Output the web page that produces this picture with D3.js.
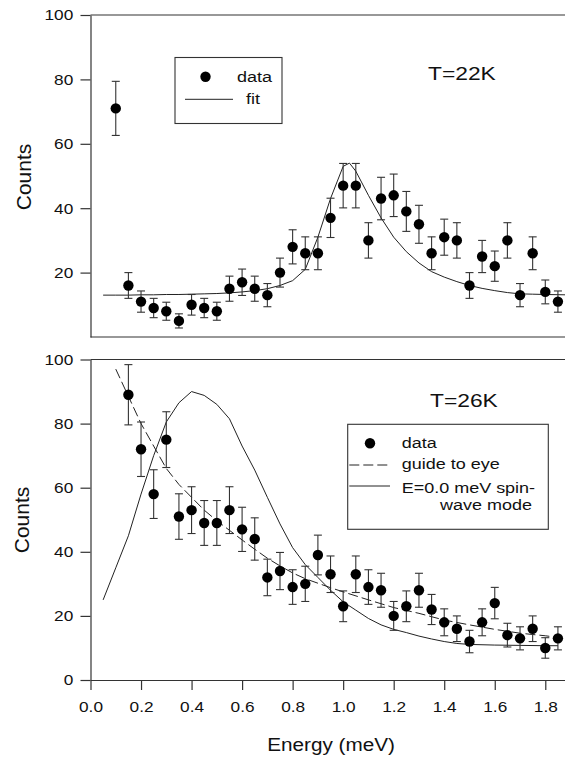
<!DOCTYPE html>
<html>
<head>
<meta charset="utf-8">
<script src="https://cdn.jsdelivr.net/npm/d3@7"></script>
<style>
body { margin: 0; background: #fff; }
text { font-family: "Liberation Sans", Arial, sans-serif; fill: #111; }
</style>
</head>
<body>
<svg id="chart" width="565" height="759"></svg>
<script>
// T=22K panel
var energyTop = [0.1,0.15,0.2,0.25,0.3,0.35,0.4,0.45,0.5,0.55,0.6,0.65,0.7,0.75,0.8,0.85,0.9,0.95,1.0,1.05,1.1,1.15,1.2,1.25,1.3,1.35,1.4,1.45,1.5,1.55,1.6,1.65,1.7,1.75,1.8,1.85];
var countsTop = [71,16,11,9,8,5,10,9,8,15,17,15,13,20,28,26,26,37,47,47,30,43,44,39,35,26,31,30,16,25,22,30,13,26,14,11];
var errTop = [8.4,4,3.3,3,2.8,2.2,3.2,3,2.8,3.9,4.1,3.9,3.6,4.5,5.3,5.1,5.1,6.1,6.9,6.9,5.5,6.6,6.6,6.2,5.9,5.1,5.6,5.5,4,5,4.7,5.5,3.6,5.1,3.7,3.3];
var fitE = [0.05,0.1,0.15,0.2,0.25,0.3,0.35,0.4,0.45,0.5,0.55,0.6,0.65,0.7,0.75,0.8,0.85,0.9,0.95,1.0,1.025,1.05,1.1,1.15,1.2,1.25,1.3,1.35,1.4,1.45,1.5,1.55,1.6,1.65,1.7,1.75,1.8,1.88];
var fitY = [13.0,13.0,13.0,13.1,13.1,13.2,13.2,13.3,13.4,13.5,13.7,14.0,14.4,15.0,16.0,17.5,21,31,43,53,54,51.5,44,37,31,26.5,23,20.3,18.6,17.2,16,15.1,14.4,13.8,13.4,13.3,13.2,13.1];

// T=26K panel
var energyBot = [0.15,0.2,0.25,0.3,0.35,0.4,0.45,0.5,0.55,0.6,0.65,0.7,0.75,0.8,0.85,0.9,0.95,1.0,1.05,1.1,1.15,1.2,1.25,1.3,1.35,1.4,1.45,1.5,1.55,1.6,1.65,1.7,1.75,1.8,1.85];
var countsBot = [89,72,58,75,51,53,49,49,53,47,44,32,34,29,30,39,33,23,33,29,28,20,23,28,22,18,16,12,18,24,14,13,16,10,13];
var errBot = [9.4,8.5,7.6,8.7,7.1,7.3,7,7,7.3,6.9,6.6,5.7,5.8,5.4,5.5,6.2,5.7,4.8,5.7,5.4,5.3,4.5,4.8,5.3,4.7,4.2,4,3.5,4.2,4.9,3.7,3.6,4,3.2,3.6];
var guideE = [0.1,0.15,0.2,0.25,0.3,0.35,0.4,0.45,0.5,0.55,0.6,0.65,0.7,0.75,0.8,0.85,0.9,0.95,1.0,1.1,1.2,1.3,1.4,1.5,1.6,1.7,1.8,1.83];
var guideY = [97,88.5,80,73,66,61,57,53,49.7,46.7,43.7,40.8,38,35.6,33.4,31.6,30.2,28.8,27.5,25,22.6,20.8,18.7,17.2,15.8,14.6,13.8,13.5];
var spinE = [0.05,0.1,0.15,0.2,0.25,0.3,0.35,0.4,0.45,0.5,0.55,0.6,0.65,0.7,0.75,0.8,0.85,0.9,0.95,1.0,1.05,1.1,1.15,1.2,1.25,1.3,1.35,1.4,1.45,1.5,1.6,1.7,1.8,1.85];
var spinY = [25,35,45,58,70,80.5,86.5,90,88.8,86,81.5,73,65.5,57,48.7,41.3,36,32,28,24.4,21.8,19.2,17.2,15.8,14.8,13.7,12.8,12,11.4,11.1,10.9,10.8,10.7,10.7];

var xTicks = [0,0.2,0.4,0.6,0.8,1.0,1.2,1.4,1.6,1.8];
var yTicksTop = [20,40,60,80,100];
var yTicksBot = [0,20,40,60,80,100];

var svg = d3.select("#chart");
var ink = "#1a1a1a";

var x = d3.scaleLinear().domain([0, 1.88]).range([90.5, 565.5]);
var yTop = d3.scaleLinear().domain([0, 100]).range([337, 15]);
var yBot = d3.scaleLinear().domain([0, 100]).range([680, 359.5]);

function zip(a, b) { return a.map(function(v, i) { return [v, b[i]]; }); }

function stretchText(sel, k) { sel.attr("transform", "scale(" + k + ",1)"); }

function label(x0, y0, str, size, k, anchor) {
  return svg.append("text")
    .attr("transform", "translate(" + x0 + "," + y0 + ") scale(" + k + ",1)")
    .attr("text-anchor", anchor || "start")
    .style("font-size", size + "px")
    .text(str);
}

// frames
function frame(y) {
  svg.append("line")
    .attr("x1", x.range()[0]).attr("x2", x.range()[1])
    .attr("y1", y).attr("y2", y)
    .attr("stroke", "#333").attr("stroke-width", 1.2);
}
frame(yTop(100));
frame(yTop(0));
frame(yBot(100));

// y axes
var axTop = svg.append("g")
  .attr("transform", "translate(" + x(0) + ",0)")
  .call(d3.axisLeft(yTop).tickValues(yTicksTop).tickSize(10).tickSizeOuter(0).tickPadding(5).tickFormat(d3.format("d")));
var axBot = svg.append("g")
  .attr("transform", "translate(" + x(0) + ",0)")
  .call(d3.axisLeft(yBot).tickValues(yTicksBot).tickSize(10).tickSizeOuter(0).tickPadding(5).tickFormat(d3.format("d")));
var axX = svg.append("g")
  .attr("transform", "translate(0," + yBot(0) + ")")
  .call(d3.axisBottom(x).tickValues(xTicks).tickSize(10).tickSizeOuter(0).tickPadding(11).tickFormat(d3.format(".1f")));

[axTop, axBot, axX].forEach(function(g) {
  g.selectAll("path, line").attr("stroke", "#333").attr("stroke-width", 1.2);
  g.selectAll("text").style("font-size", "15px").style("font-family", "'Liberation Sans', Arial, sans-serif").attr("fill", ink);
  stretchText(g.selectAll("text"), 1.15);
});

// error bars + dots
function points(E, C, Er, y) {
  var g = svg.append("g");
  var d = E.map(function(e, i) { return {e: e, c: C[i], s: Er[i]}; });
  var bars = g.selectAll(".eb").data(d).enter().append("g");
  bars.append("line")
    .attr("x1", function(p) { return x(p.e); }).attr("x2", function(p) { return x(p.e); })
    .attr("y1", function(p) { return y(p.c - p.s); }).attr("y2", function(p) { return y(p.c + p.s); })
    .attr("stroke", "#333").attr("stroke-width", 1.1);
  [-1, 1].forEach(function(sgn) {
    bars.append("line")
      .attr("x1", function(p) { return x(p.e) - 4; }).attr("x2", function(p) { return x(p.e) + 4; })
      .attr("y1", function(p) { return y(p.c + sgn * p.s); }).attr("y2", function(p) { return y(p.c + sgn * p.s); })
      .attr("stroke", "#333").attr("stroke-width", 1.1);
  });
  g.selectAll("circle").data(d).enter().append("circle")
    .attr("cx", function(p) { return x(p.e); })
    .attr("cy", function(p) { return y(p.c); })
    .attr("r", 5.2)
    .attr("fill", "#000");
}

function curve(E, Y, y, dash) {
  svg.append("path")
    .datum(zip(E, Y))
    .attr("fill", "none")
    .attr("stroke", "#222")
    .attr("stroke-width", 1)
    .attr("stroke-dasharray", dash || null)
    .attr("d", d3.line().x(function(p) { return x(p[0]); }).y(function(p) { return y(p[1]); }));
}

curve(fitE, fitY, yTop);
points(energyTop, countsTop, errTop, yTop);

curve(guideE, guideY, yBot, "10,4");
curve(spinE, spinY, yBot);
points(energyBot, countsBot, errBot, yBot);

// texts
label(428, 80, "T=22K", 19, 1.2);
label(430, 407, "T=26K", 19, 1.2);

svg.append("text")
  .attr("transform", "translate(31,177) rotate(-90)")
  .attr("text-anchor", "middle")
  .style("font-size", "21px")
  .text("Counts");
svg.append("text")
  .attr("transform", "translate(28.5,520) rotate(-90)")
  .attr("text-anchor", "middle")
  .style("font-size", "21px")
  .text("Counts");
label(331, 751, "Energy (meV)", 18.5, 1.12, "middle");

// legend top
svg.append("rect").attr("x", 175).attr("y", 57.5).attr("width", 107).attr("height", 66)
  .attr("fill", "none").attr("stroke", "#333").attr("stroke-width", 1.1);
svg.append("circle").attr("cx", 205.5).attr("cy", 76.7).attr("r", 5.2).attr("fill", "#000");
svg.append("line").attr("x1", 185).attr("x2", 233).attr("y1", 99.3).attr("y2", 99.3).attr("stroke", "#222");
label(254.5, 82, "data", 15, 1.2, "middle");
label(253, 104, "fit", 15, 1.2, "middle");

// legend bottom
svg.append("rect").attr("x", 347.7).attr("y", 424.3).attr("width", 200.6).attr("height", 105)
  .attr("fill", "none").attr("stroke", "#333").attr("stroke-width", 1.1);
svg.append("circle").attr("cx", 370).attr("cy", 443.3).attr("r", 5.2).attr("fill", "#000");
svg.append("line").attr("x1", 349.3).attr("x2", 390).attr("y1", 465).attr("y2", 465)
  .attr("stroke", "#222").attr("stroke-dasharray", "10,4");
svg.append("line").attr("x1", 349.3).attr("x2", 390).attr("y1", 486).attr("y2", 486).attr("stroke", "#222");
label(401.7, 448.3, "data", 15, 1.2);
label(401.7, 469.3, "guide to eye", 15, 1.2);
label(401.7, 492.7, "E=0.0 meV spin-", 15, 1.2);
label(440, 510, "wave mode", 15, 1.2);
</script>
</body>
</html>
